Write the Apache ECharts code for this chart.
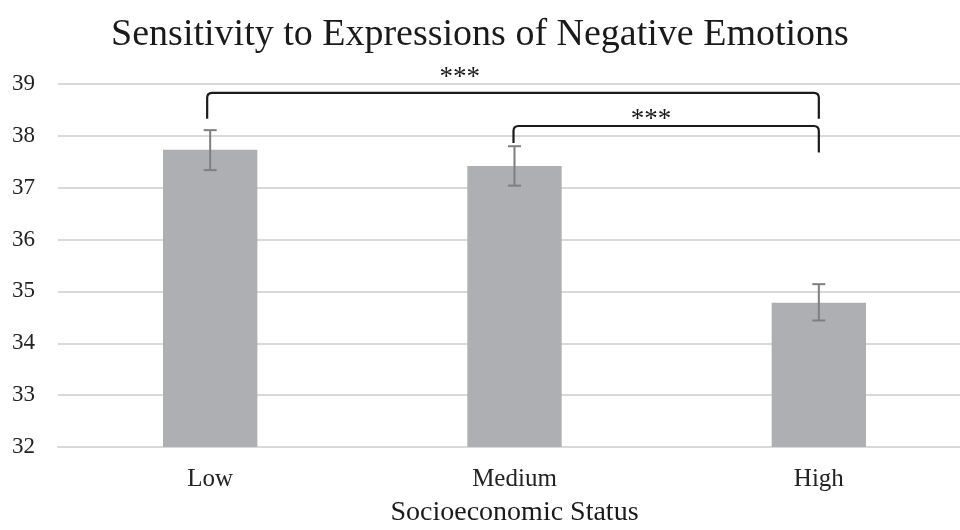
<!DOCTYPE html>
<html>
<head>
<meta charset="utf-8">
<script src="https://cdn.jsdelivr.net/npm/echarts@6/dist/echarts.min.js"></script>
<style>
  html, body { margin: 0; padding: 0; background: #fff; }
  #chart { width: 960px; height: 530px; }
</style>
</head>
<body>
<div id="chart"></div>
<script>
// Mean sensitivity score by socioeconomic status, with error-bar bounds
const categories = ['Low', 'Medium', 'High'];
const means = [37.73, 37.42, 34.78];
const errLow = [37.34, 37.04, 34.44];
const errHigh = [38.11, 37.80, 35.14];

// Significance brackets: [from category, to category, top level, left leg end, right leg end, label]
const brackets = [
  [0, 2, 38.83, 38.33, 38.33, '***'],
  [1, 2, 38.19, 37.86, 37.68, '***']
];

const yTicks = [32, 33, 34, 35, 36, 37, 38, 39];

const serif = '"Liberation Serif", "Times New Roman", serif';
const chart = echarts.init(document.getElementById('chart'), null, { renderer: 'canvas' });

const errorData = categories.map((c, i) => [i, errLow[i], errHigh[i]]);

chart.setOption({
  animation: false,
  title: {
    text: 'Sensitivity to Expressions of Negative Emotions',
    left: 'center',
    top: 11,
    textStyle: { fontFamily: serif, fontSize: 38, fontWeight: 'normal', color: '#1a1a1a' }
  },
  grid: { left: 58, top: 84, width: 913, height: 363, outerBoundsMode: 'none', containLabel: false },
  xAxis: {
    type: 'category',
    data: categories,
    axisLine: { show: true, lineStyle: { color: '#d9d9d9', width: 2 } },
    axisTick: { show: false },
    axisLabel: { fontFamily: serif, fontSize: 25, color: '#222', margin: 20 },
    name: 'Socioeconomic Status',
    nameLocation: 'middle',
    nameGap: 52,
    nameTextStyle: { fontFamily: serif, fontSize: 28, color: '#1a1a1a' }
  },
  yAxis: {
    type: 'value',
    min: yTicks[0],
    max: yTicks[yTicks.length - 1],
    interval: 1,
    axisLine: { show: false },
    axisTick: { show: false },
    splitLine: { lineStyle: { color: '#d9d9d9', width: 2 } },
    axisLabel: { fontFamily: serif, fontSize: 23, color: '#222', margin: 23 }
  },
  series: [
    {
      type: 'bar',
      data: means,
      barWidth: '31%',
      itemStyle: { color: '#aeafb3' },
      z: 2
    },
    {
      type: 'custom',
      data: errorData,
      z: 3,
      renderItem: function (params, api) {
        const x = api.value(0);
        const lo = api.coord([x, api.value(1)]);
        const hi = api.coord([x, api.value(2)]);
        const cap = 6.5;
        const style = { stroke: '#7f7f7f', lineWidth: 2, fill: null };
        return {
          type: 'group',
          children: [
            { type: 'line', shape: { x1: hi[0], y1: hi[1], x2: lo[0], y2: lo[1] }, style: style },
            { type: 'line', shape: { x1: hi[0] - cap, y1: hi[1], x2: hi[0] + cap, y2: hi[1] }, style: style },
            { type: 'line', shape: { x1: lo[0] - cap, y1: lo[1], x2: lo[0] + cap, y2: lo[1] }, style: style }
          ]
        };
      }
    },
    {
      type: 'custom',
      data: brackets,
      z: 4,
      renderItem: function (params, api) {
        const a = api.value(0), b = api.value(1);
        const top = api.value(2), legL = api.value(3), legR = api.value(4);
        const label = brackets[params.dataIndex][5];
        const pL = api.coord([a, top]);
        const pR = api.coord([b, top]);
        const xL = pL[0] - (params.dataIndex === 0 ? 3 : 1);
        const xR = pR[0];
        const yT = pL[1];
        const yL = api.coord([a, legL])[1];
        const yR = api.coord([b, legR])[1];
        const r = 5;
        const path = 'M' + xL + ' ' + yL +
          ' L' + xL + ' ' + (yT + r) +
          ' Q' + xL + ' ' + yT + ' ' + (xL + r) + ' ' + yT +
          ' L' + (xR - r) + ' ' + yT +
          ' Q' + xR + ' ' + yT + ' ' + xR + ' ' + (yT + r) +
          ' L' + xR + ' ' + yR;
        const frac = params.dataIndex === 0 ? 0.413 : 0.45;
        const lift = params.dataIndex === 0 ? 15 : 6;
        const tx = xL + (xR - xL) * frac;
        return {
          type: 'group',
          children: [
            { type: 'path', shape: { pathData: path }, style: { stroke: '#1a1a1a', lineWidth: 2.2, fill: null } },
            {
              type: 'text',
              style: {
                text: label, x: tx, y: yT - lift,
                align: 'center', verticalAlign: 'middle',
                font: '27px ' + serif, fill: '#1a1a1a'
              }
            }
          ]
        };
      }
    }
  ]
});
</script>
</body>
</html>
